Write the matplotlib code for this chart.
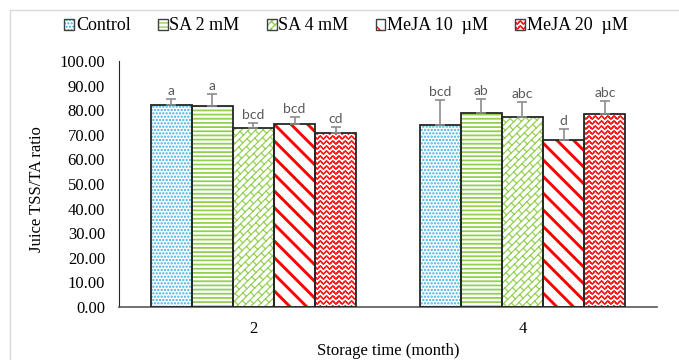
import warnings
import numpy as np
import matplotlib
matplotlib.use('Agg')
import matplotlib.pyplot as plt
from matplotlib import hatch as mhatch
from matplotlib.path import Path
from matplotlib.patches import Patch, Rectangle

warnings.filterwarnings('ignore')

# данні
months = ['2', '4']
treatments = ['Control', 'SA 2 mM', 'SA 4 mM', 'MeJA 10  µM', 'MeJA 20  µM']
control = [82.0, 74.0]
control_err = [2.5, 10.0]
sa2 = [81.7, 78.7]
sa2_err = [5.0, 6.0]
sa4 = [72.6, 77.4]
sa4_err = [2.3, 5.8]
meja10 = [74.4, 67.9]
meja10_err = [3.0, 4.5]
meja20 = [70.9, 78.3]
meja20_err = [2.4, 5.3]
letters = [['a', 'bcd'], ['a', 'ab'], ['bcd', 'abc'], ['bcd', 'd'], ['cd', 'abc']]


def clip_unit(p0, p1):
    # обрізка відрізка до одиничного квадрата (Liang-Barsky)
    t0, t1 = 0.0, 1.0
    dx, dy = p1[0] - p0[0], p1[1] - p0[1]
    for p, q in ((-dx, p0[0]), (dx, 1 - p0[0]), (-dy, p0[1]), (dy, 1 - p0[1])):
        if abs(p) < 1e-12:
            if q < 0:
                return None
            continue
        t = q / p
        if p < 0:
            t0 = max(t0, t)
        else:
            t1 = min(t1, t)
    if t1 - t0 < 1e-9:
        return None
    return ((p0[0] + t0 * dx, p0[1] + t0 * dy), (p0[0] + t1 * dx, p0[1] + t1 * dy))


# власні штрихування: цегла по діагоналі і хвилі (тільки відрізки, щоб нічого не заливалось)
class BrickHatch(mhatch.HatchPatternBase):
    def __init__(self, hatch, density):
        k = hatch.count('b')
        self.num_vertices = 0
        if k == 0:
            return
        n, m = 14 * k, 6
        s2 = np.sqrt(2)
        d = 1 / (n * s2)
        L = 1 / (m * s2)

        def to_xy(u, v):
            return ((u - v) / s2, (u + v) / s2)

        segs = []
        for r in range(-n - 2, n + 2):
            v = r * d
            segs.append((to_xy(-0.1, v), to_xy(s2 + 0.1, v)))
            for j in range(-2, 2 * m + 3):
                u = (j + 0.5 * (r % 2)) * L
                segs.append((to_xy(u, v), to_xy(u, v + d)))
        out = [c for c in (clip_unit(a, b) for a, b in segs) if c is not None]
        self.xy = np.array(out).reshape(-1, 2)
        self.num_vertices = len(self.xy)

    def set_vertices_and_codes(self, vertices, codes):
        vertices[:] = self.xy
        codes[0::2] = Path.MOVETO
        codes[1::2] = Path.LINETO


class WaveHatch(mhatch.HatchPatternBase):
    def __init__(self, hatch, density):
        rows = hatch.count('w') * 20
        self.num_vertices = 0
        if rows == 0:
            return
        xs = np.linspace(0, 1, 16 * 8 + 1)
        segs = []
        for i in range(rows):
            ys = (i + 0.5) / rows + 0.013 * np.sin(2 * np.pi * 16 * xs)
            for a in range(len(xs) - 1):
                segs.append(((xs[a], ys[a]), (xs[a + 1], ys[a + 1])))
        self.xy = np.array(segs).reshape(-1, 2)
        self.num_vertices = len(self.xy)

    def set_vertices_and_codes(self, vertices, codes):
        vertices[:] = self.xy
        codes[0::2] = Path.MOVETO
        codes[1::2] = Path.LINETO


mhatch._hatch_types.extend([BrickHatch, WaveHatch])

values = [control, sa2, sa4, meja10, meja20]
errors = [control_err, sa2_err, sa4_err, meja10_err, meja20_err]
colors = ['#3aaee6', '#92d050', '#92d050', '#ff0000', '#ff1a1a']
hatches = ['.....', '----', 'b', '\\\\', 'w']
hatch_lw = [1.1, 1.3, 0.85, 2.1, 1.0]

plt.rcParams['font.family'] = ['Liberation Serif', 'DejaVu Serif']
plt.rcParams['path.simplify'] = False

fig = plt.figure(figsize=(6.79, 3.6), dpi=100)
ax = fig.add_axes([119 / 679, 1 - 307 / 360, (657 - 119) / 679, (307 - 61) / 360])

x = np.arange(len(months))
w = 0.153
handles = []
for i in range(len(treatments)):
    pos = x + (i - 2) * w
    with plt.rc_context({'hatch.linewidth': hatch_lw[i]}):
        bars = ax.bar(pos, values[i], w, color='white', edgecolor=colors[i],
                      linewidth=0, hatch=hatches[i], zorder=2)
    for b in bars:
        try:
            b.set_hatch_linewidth(hatch_lw[i])
        except AttributeError:
            pass
    ax.bar(pos, values[i], w, fill=False, edgecolor='#262626', linewidth=1.3, zorder=3)
    ax.errorbar(pos, values[i], yerr=[np.zeros(len(months)), errors[i]], fmt='none',
                ecolor='#8c8c8c', elinewidth=1.2, capsize=3.5, capthick=1.2, zorder=4)
    for j in range(len(months)):
        ax.text(pos[j], values[i][j] + errors[i][j] + 0.8, letters[i][j], ha='center',
                va='bottom', fontsize=10, color='#595959', family=['Lato', 'DejaVu Sans'])
    with plt.rc_context({'hatch.linewidth': 0.8}):
        hp = Patch(facecolor='white', edgecolor=colors[i], linewidth=0, hatch=hatches[i])
    handles.append((hp, Patch(fill=False, edgecolor='#404040', linewidth=1.0)))

ax.set_xlim(-0.5, 1.5)
ax.set_ylim(0, 100)
ax.set_yticks(np.arange(0, 101, 10))
ax.set_yticklabels([f'{v:.2f}' for v in np.arange(0, 101, 10)], fontsize=12)
ax.set_xticks(x)
ax.set_xticklabels(months, fontsize=12)
ax.tick_params(length=0, pad=10)
for s in ['top', 'right']:
    ax.spines[s].set_visible(False)
ax.spines['left'].set_color('#262626')
ax.spines['bottom'].set_color('#595959')
ax.spines['bottom'].set_linewidth(1.2)

ax.set_ylabel('Juice TSS/TA ratio', fontsize=12)
ax.yaxis.set_label_coords(-0.1375, 0.48)
ax.set_xlabel('Storage time (month)', fontsize=12)
ax.xaxis.set_label_coords(0.5, -0.148)

fig.legend(handles, treatments, loc='center', bbox_to_anchor=(346 / 679, 1 - 26 / 360),
           ncol=5, frameon=False, fontsize=13, handlelength=0.55, handleheight=0.55,
           handletextpad=0.1, columnspacing=1.5, borderaxespad=0, borderpad=0)

fig.patches.append(Rectangle((10 / 679, -0.1), 1.2, 1.1 - 10 / 360, transform=fig.transFigure,
                             fill=False, edgecolor='#d9d9d9', linewidth=1.0))

fig.savefig('out.png', dpi=100)
